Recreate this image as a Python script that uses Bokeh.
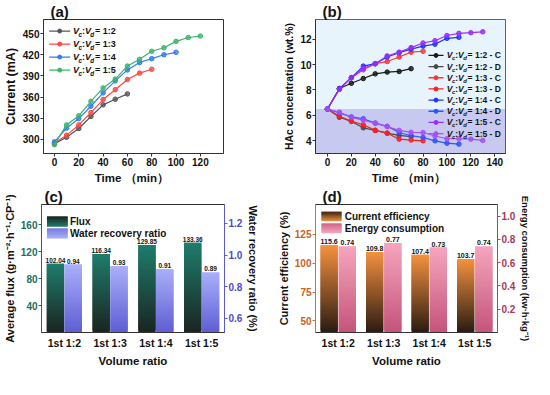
import numpy as np
from bokeh.plotting import figure
from bokeh.layouts import column, row
from bokeh.models import (Range1d, LinearAxis, FixedTicker, BoxAnnotation, PrintfTickFormatter,
                          Title)
from bokeh.core.properties import value
from bokeh.embed import file_html
from bokeh.resources import INLINE

FONT = "Liberation Sans"

# ---------------- data ----------------
# (a) current vs time
time_a = [0, 10, 20, 30, 40, 50, 60, 70, 80, 90, 100, 110, 120]
current_12 = [294, 303, 315.5, 332.5, 349, 357, 364.5]
current_13 = [295, 306, 320.5, 338, 356.5, 370.5, 385, 394, 399.5]
current_14 = [296.5, 316, 329.5, 347, 366, 383, 398.5, 409, 414.5, 420, 423.5]
current_15 = [292.5, 320.5, 333.5, 354, 373, 385.5, 404, 413.5, 425, 430, 439, 444.5, 446.5]
ratio_names = ["1:2", "1:3", "1:4", "1:5"]

# (b) HAc concentration vs time
time_b = [0, 10, 20, 30, 40, 50, 60, 70, 80, 90, 100, 110, 120, 130]
hac_c_12 = [6.5, 8.12, 8.53, 8.9, 9.27, 9.41, 9.46, 9.68]
hac_d_12 = [6.5, 5.85, 5.53, 5.02, 4.82, 4.6, 4.42, 4.33]
hac_c_13 = [6.5, 8.1, 8.97, 9.59, 10.07, 10.24, 10.6, 10.98, 11.05]
hac_d_13 = [6.5, 5.93, 5.56, 5.26, 4.82, 4.6, 4.13, 4.06, 4.0]
hac_c_14 = [6.5, 8.1, 8.97, 9.88, 10.07, 10.6, 10.93, 11.22, 11.46, 11.61, 12.07, 12.15]
hac_d_14 = [6.5, 6.2, 5.88, 5.73, 5.39, 5.14, 4.65, 4.4, 4.26, 4.0, 3.81, 3.74]
hac_c_15 = [6.5, 8.05, 8.97, 9.71, 10.07, 10.68, 10.98, 11.34, 11.7, 11.88, 12.29, 12.46, 12.51, 12.58]
hac_d_15 = [6.5, 6.25, 5.85, 5.63, 5.39, 5.12, 4.82, 4.67, 4.65, 4.38, 4.16, 4.16, 4.13, 4.03]
initial_conc = 6.5

# (c) flux and water recovery
volume_ratios = ["1st 1:2", "1st 1:3", "1st 1:4", "1st 1:5"]
avg_flux = [102.04, 116.34, 129.85, 133.36]
water_recovery = [0.94, 0.93, 0.91, 0.89]

# (d) current efficiency and energy consumption
current_eff = [115.6, 109.8, 107.4, 103.7]
energy_cons = [0.74, 0.77, 0.73, 0.74]

ROW1_H = 185
ROW2_H = 183


# ---------------- helpers ----------------
def hex2rgb(h):
    h = h.lstrip("#")
    return [int(h[i:i + 2], 16) for i in (0, 2, 4)]


def mix(c1, c2, t):
    a, b = hex2rgb(c1), hex2rgb(c2)
    return "#%02x%02x%02x" % tuple(int(round(a[i] + (b[i] - a[i]) * t)) for i in range(3))


def make_fig(width, height, left, right, top, bottom, xr, yr, tag, tag_off, xlabel):
    p = figure(width=width, height=height, x_range=Range1d(*xr), y_range=Range1d(*yr),
               output_backend="svg", toolbar_location=None,
               min_border_left=left, min_border_right=right,
               min_border_top=top, min_border_bottom=bottom)
    p.xgrid.visible = False
    p.ygrid.visible = False
    p.outline_line_color = "#333333"
    p.outline_line_width = 1
    p.background_fill_color = "white"
    p.border_fill_color = "white"
    p.title.text = tag
    p.title.text_font = FONT
    p.title.text_font_size = "15px"
    p.title.text_font_style = "bold"
    p.title.text_color = "#111111"
    p.title.align = "left"
    p.title.offset = tag_off
    p.title.standoff = 0
    p.title.text_line_height = 1.0
    p.add_layout(Title(text=xlabel, align="center", text_font=FONT, text_font_size="11.5px",
                       text_font_style="bold", text_color="#111111", standoff=3,
                       text_line_height=1.0), "below")
    p._fw = width - left - right
    p._fh = height - top - bottom
    p._xr = xr
    p._yr = yr
    return p


def style_axis(ax, label_size, tick_size, tick_color="#111111", line_color="#333333",
               label_color="#111111", tick_out=3):
    ax.axis_label_text_font = FONT
    ax.axis_label_text_font_style = "bold"
    ax.axis_label_text_font_size = label_size
    ax.axis_label_text_color = label_color
    ax.axis_label_standoff = 2
    ax.axis_label_text_line_height = 1.0
    ax.major_label_text_font = FONT
    ax.major_label_text_font_style = "bold"
    ax.major_label_text_font_size = tick_size
    ax.major_label_text_color = tick_color
    ax.major_label_text_line_height = 1.0
    ax.major_label_standoff = 1
    ax.major_tick_in = 0
    ax.major_tick_out = tick_out
    ax.minor_tick_in = 0
    ax.minor_tick_out = 0
    ax.axis_line_color = line_color
    ax.major_tick_line_color = line_color


def px(p):
    return (p._xr[1] - p._xr[0]) / p._fw, (p._yr[1] - p._yr[0]) / p._fh


def sub_legend(p, x_px, y_px, row_px, line_px, gap_px, colors, tails, fs, msize):
    sx, sy = px(p)
    x0 = p._xr[0] + x_px * sx
    x1 = x0 + line_px * sx
    xt = x0 + (line_px + gap_px) * sx
    ys = [p._yr[1] - (y_px + i * row_px) * sy for i in range(len(colors))]
    for c, y in zip(colors, ys):
        p.line([x0, x1], [y, y], line_color=c, line_width=1.3)
        p.scatter([(x0 + x1) / 2], [y], marker="circle", size=msize, fill_color=c, line_color=c)
    n = len(ys)
    sub = fs * 0.7
    o_c = 0.60 * fs
    o_col = o_c + 0.556 * sub
    o_v2 = o_col + 0.333 * fs
    o_d = o_v2 + 0.60 * fs
    o_tail = o_d + 0.611 * sub + 0.8
    pieces = [(["V"] * n, 0.0, fs, "bold italic", "middle"),
              (["c"] * n, o_c, sub, "bold italic", "top"),
              ([":"] * n, o_col, fs, "bold", "middle"),
              (["V"] * n, o_v2, fs, "bold italic", "middle"),
              (["d"] * n, o_d, sub, "bold italic", "top"),
              (tails, o_tail, fs, "bold", "middle")]
    for texts, off, size, style, base in pieces:
        p.text(x=[xt] * n, y=ys, text=texts, x_offset=off, text_font=value(FONT),
               text_font_size=value("%.1fpx" % size), text_font_style=style,
               text_baseline=base, text_align="left", text_color="#111111")


def grad_bars(p, xs, vals, base, l_off, r_off, c_bottom, c_top, n=40, y_range_name="default"):
    L, R, B, T, C = [], [], [], [], []
    for x, v in zip(xs, vals):
        step = (v - base) / n
        for k in range(n):
            L.append(x + l_off)
            R.append(x + r_off)
            B.append(base + step * k)
            T.append(min(base + step * (k + 2), v))
            C.append(mix(c_bottom, c_top, (k + 0.5) / n))
    p.quad(left=L, right=R, bottom=B, top=T, fill_color=C, line_color=None,
           y_range_name=y_range_name)


def grad_swatch(p, x_px0, x_px1, y_px0, y_px1, c_top, c_bottom, n=12):
    sx, sy = px(p)
    xl = p._xr[0] + x_px0 * sx
    xr_ = p._xr[0] + x_px1 * sx
    yt = p._yr[1] - y_px0 * sy
    yb = p._yr[1] - y_px1 * sy
    h = (yt - yb) / n
    L, R, B, T, C = [], [], [], [], []
    for k in range(n):
        L.append(xl)
        R.append(xr_)
        B.append(yb + h * k)
        T.append(min(yb + h * (k + 2), yt))
        C.append(mix(c_bottom, c_top, (k + 0.5) / n))
    p.quad(left=L, right=R, bottom=B, top=T, fill_color=C, line_color=None)


def legend_text(p, x_px, y_pxs, texts, fs="10px"):
    sx, sy = px(p)
    p.text(x=[p._xr[0] + x_px * sx] * len(texts), y=[p._yr[1] - y * sy for y in y_pxs],
           text=texts, text_font=value(FONT), text_font_size=value(fs), text_font_style="bold",
           text_baseline="middle", text_align="left", text_color="#111111")


# ---------------- panel (a) ----------------
pa = make_fig(267, ROW1_H, 34, 44, 15, 31, (-9, 139), (280, 470), "(a)", 7, "Time  （min）")
style_axis(pa.xaxis[0], "11.5px", "10px")
style_axis(pa.yaxis[0], "12.5px", "10px")
pa.xaxis[0].ticker = FixedTicker(ticks=[0, 20, 40, 60, 80, 100, 120])
pa.yaxis[0].ticker = FixedTicker(ticks=[300, 330, 360, 390, 420, 450])
pa.yaxis[0].axis_label = "Current (mA)"
cols_a = ["#555555", "#ff4545", "#2f7df0", "#3cb46e"]
for ys, c in zip([current_12, current_13, current_14, current_15], cols_a):
    xs = time_a[:len(ys)]
    pa.line(xs, ys, line_color=c, line_width=1.2)
    pa.scatter(xs, ys, marker="circle", size=4.5, fill_color=c, line_color=c, fill_alpha=0.75)
sub_legend(pa, 6, 12, 13.5, 22, 3, cols_a, [" = " + r for r in ratio_names], 9, 4)

# ---------------- panel (b) ----------------
pb = make_fig(267, ROW1_H, 48, 29, 16, 31, (-10, 149), (3.0, 13.55), "(b)", 7, "Time  （min）")
style_axis(pb.xaxis[0], "11.5px", "10px")
style_axis(pb.yaxis[0], "10.5px", "10px")
pb.xaxis[0].ticker = FixedTicker(ticks=[0, 20, 40, 60, 80, 100, 120, 140])
pb.yaxis[0].ticker = FixedTicker(ticks=[4, 6, 8, 10, 12])
pb.yaxis[0].axis_label = "HAc concentration (wt.%)"
pb.add_layout(BoxAnnotation(bottom=initial_conc, fill_color="#e8f4fb", fill_alpha=1,
                            line_alpha=0, level="underlay"))
pb.add_layout(BoxAnnotation(top=initial_conc, fill_color="#c7c9f0", fill_alpha=1,
                            line_alpha=0, level="underlay"))
series_b = [hac_c_12, hac_d_12, hac_c_13, hac_d_13, hac_c_14, hac_d_14, hac_c_15, hac_d_15]
cols_b = ["#1a1a1a", "#4a4a4a", "#ff3535", "#ff1f1f", "#1a35ff", "#2a55ff", "#9a2cff", "#a650f5"]
for ys, c in zip(series_b, cols_b):
    xs = time_b[:len(ys)]
    pb.line(xs, ys, line_color=c, line_width=1.2)
    pb.scatter(xs, ys, marker="circle", size=4.5, fill_color=c, line_color=c, fill_alpha=0.8)
tails_b = []
for r in ratio_names:
    tails_b += [" = %s - C" % r, " = %s - D" % r]
sub_legend(pb, 113, 37, 11.5, 15, 3.3, cols_b, tails_b, 8.5, 4)

# ---------------- panel (c) ----------------
xpos = list(range(1, len(volume_ratios) + 1))
pc = make_fig(267, ROW2_H, 33, 43, 18, 31, (0.5, 4.5), (0, 190), "(c)", 3, "Volume ratio")
pc.extra_y_ranges = {"right": Range1d(0.51, 1.32)}
teal_tick, teal_line = "#1a7060", "#1f6b5e"
blue_tick, blue_line = "#4b4bc8", "#5a5ad2"
style_axis(pc.xaxis[0], "11.5px", "10.5px", tick_out=0)
style_axis(pc.yaxis[0], "11px", "10px", tick_color=teal_tick, line_color=teal_line)
pc.xaxis[0].ticker = FixedTicker(ticks=xpos)
pc.xaxis[0].major_label_overrides = {x: v for x, v in zip(xpos, volume_ratios)}
pc.xaxis[0].major_label_standoff = 4
pc.yaxis[0].ticker = FixedTicker(ticks=[40, 80, 120, 160])
pc.yaxis[0].axis_label = "Average flux (g·m⁻²·h⁻¹·CP⁻¹)"
ax_r = LinearAxis(y_range_name="right", axis_label="Water recovery ratio (%)")
style_axis(ax_r, "11px", "10px", tick_color=blue_tick, line_color=blue_line)
ax_r.ticker = FixedTicker(ticks=[0.6, 0.8, 1.0, 1.2])
ax_r.formatter = PrintfTickFormatter(format="%.1f")
pc.add_layout(ax_r, "right")
grad_bars(pc, xpos, avg_flux, 0, -0.385, -0.005, "#1b2421", "#1e7d6c")
grad_bars(pc, xpos, water_recovery, 0.51, 0.005, 0.385, "#5e5ed4", "#a9aff9",
          y_range_name="right")
pc.text(x=[x - 0.195 for x in xpos], y=avg_flux, text=["%.2f" % v for v in avg_flux],
        text_font=value(FONT), text_font_size=value("6.5px"), text_font_style="bold",
        text_align="center", text_baseline="bottom", y_offset=-1, text_color="#111111")
pc.text(x=[x + 0.195 for x in xpos], y=water_recovery, text=["%.2f" % v for v in water_recovery],
        text_font=value(FONT), text_font_size=value("6.5px"), text_font_style="bold",
        text_align="center", text_baseline="bottom", y_offset=-1, text_color="#111111",
        y_range_name="right")
grad_swatch(pc, 5.7, 27.3, 12.6, 23.3, "#1b2421", "#1e7d6c")
grad_swatch(pc, 5.7, 27.3, 25.0, 35.6, "#7a7ae0", "#a9aff9")
legend_text(pc, 29.7, [18.3, 30.6], ["Flux", "Water recovery ratio"], "10px")

# ---------------- panel (d) ----------------
pd_ = make_fig(267, ROW2_H, 48, 28, 18, 31, (0.5, 4.5), (40, 151), "(d)", 7, "Volume ratio")
pd_.extra_y_ranges = {"right": Range1d(0, 1.1)}
or_tick, or_line = "#c8621e", "#d3742e"
cr_tick, cr_line = "#a8385e", "#b54068"
style_axis(pd_.xaxis[0], "11.5px", "10.5px", tick_out=0)
style_axis(pd_.yaxis[0], "11px", "10px", tick_color=or_tick, line_color=or_line)
pd_.xaxis[0].ticker = FixedTicker(ticks=xpos)
pd_.xaxis[0].major_label_overrides = {x: v for x, v in zip(xpos, volume_ratios)}
pd_.xaxis[0].major_label_standoff = 4
pd_.yaxis[0].ticker = FixedTicker(ticks=[50, 75, 100, 125])
pd_.yaxis[0].axis_label = "Current efficiency (%)"
ax_r2 = LinearAxis(y_range_name="right", axis_label="Energy consumption (kw·h·kg⁻¹)")
style_axis(ax_r2, "9.5px", "10px", tick_color=cr_tick, line_color=cr_line)
ax_r2.ticker = FixedTicker(ticks=[0.2, 0.4, 0.6, 0.8, 1.0])
ax_r2.formatter = PrintfTickFormatter(format="%.1f")
pd_.add_layout(ax_r2, "right")
grad_bars(pd_, xpos, current_eff, 40, -0.39, -0.01, "#2a1b12", "#f5913f")
grad_bars(pd_, xpos, energy_cons, 0, 0.01, 0.39, "#c4547a", "#f6a5be", y_range_name="right")
pd_.text(x=[x - 0.2 for x in xpos], y=current_eff, text=["%.1f" % v for v in current_eff],
         text_font=value(FONT), text_font_size=value("7px"), text_font_style="bold",
         text_align="center", text_baseline="bottom", y_offset=-1, text_color="#111111")
pd_.text(x=[x + 0.2 for x in xpos], y=energy_cons, text=["%.2f" % v for v in energy_cons],
         text_font=value(FONT), text_font_size=value("7px"), text_font_style="bold",
         text_align="center", text_baseline="bottom", y_offset=-1, text_color="#111111",
         y_range_name="right")
grad_swatch(pd_, 6.3, 27.3, 7.6, 17.6, "#3a2414", "#f5913f")
grad_swatch(pd_, 6.3, 27.3, 20.0, 30.0, "#d0668a", "#f6a5be")
legend_text(pd_, 30.6, [12.6, 25.0], ["Current efficiency", "Energy consumption"], "10px")

layout = column(row(pa, pb), row(pc, pd_))
open("out.html", "w").write(file_html(layout, INLINE))
